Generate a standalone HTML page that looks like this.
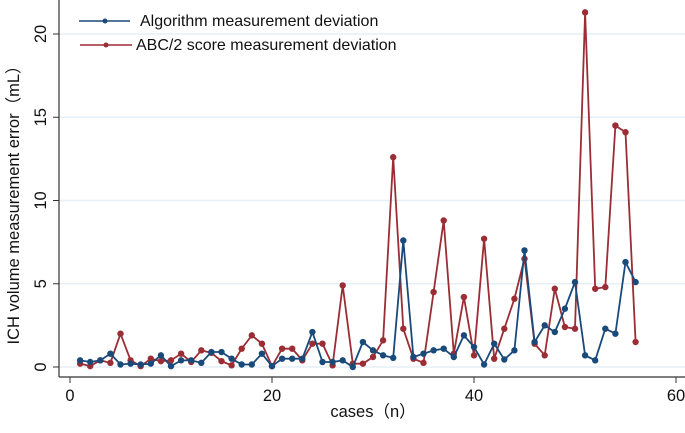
<!DOCTYPE html>
<html><head><meta charset="utf-8"><style>
body{margin:0;background:#fff;}
svg text{font-family:"Liberation Sans","Noto Sans CJK SC",sans-serif;fill:#111;}
</style></head><body>
<svg id="chart" width="685" height="428" xmlns="http://www.w3.org/2000/svg">
<g id="grid"></g>
<g id="axes"></g>
<g id="series"></g>
<text x="373" y="417" font-size="16.5" text-anchor="middle">cases（n）</text>
<text transform="translate(19,201) rotate(-90)" font-size="16.5" text-anchor="middle">ICH volume measurement error（mL）</text>
<g>
<g>
<line x1="79" y1="21" x2="130" y2="21" stroke="#1a4a7a" stroke-width="1.5"/><circle cx="105" cy="21" r="2.5" fill="#1a4a7a"/>
<text x="140" y="26" font-size="16">Algorithm measurement deviation</text></g>
<g>
<line x1="80" y1="45" x2="132" y2="45" stroke="#9b2d35" stroke-width="1.5"/><circle cx="106" cy="45" r="2.5" fill="#9b2d35"/>
<text x="136" y="50" font-size="16">ABC/2 score measurement deviation</text></g>
</g>
</svg>
<script>
const cases = Array.from({length:56},(_,i)=>i+1);
const algorithm = [0.4,0.3,0.4,0.8,0.15,0.2,0.15,0.2,0.7,0.05,0.4,0.4,0.25,0.9,0.9,0.5,0.15,0.15,0.8,0.05,0.5,0.5,0.5,2.1,0.3,0.3,0.4,0.0,1.5,1.0,0.7,0.55,7.6,0.6,0.8,1.0,1.1,0.6,1.9,1.2,0.15,1.4,0.45,1.0,7.0,1.5,2.5,2.1,3.5,5.1,0.7,0.4,2.3,2.0,6.3,5.1];
const abc2 = [0.2,0.05,0.4,0.25,2.0,0.4,0.05,0.5,0.35,0.4,0.8,0.3,1.0,0.85,0.35,0.1,1.1,1.9,1.4,0.05,1.1,1.1,0.4,1.4,1.4,0.1,4.9,0.2,0.2,0.6,1.6,12.6,2.3,0.5,0.25,4.5,8.8,0.8,4.2,0.7,7.7,0.5,2.3,4.1,6.5,1.4,0.7,4.7,2.4,2.3,21.3,4.7,4.8,14.5,14.1,1.5];
const xTicks = [0,20,40,60];
const yTicks = [0,5,10,15,20];
const NS="http://www.w3.org/2000/svg";
const xs = v => 70 + v*(606/60);
const ys = v => 367 - v*(333/20);
function mk(tag, attrs, parent){const e=document.createElementNS(NS,tag);for(const k in attrs)e.setAttribute(k,attrs[k]);parent.appendChild(e);return e;}
const grid=document.getElementById('grid'), axes=document.getElementById('axes'), ser=document.getElementById('series');
yTicks.forEach(t=>{
  const g=mk('line',{x1:59,x2:685,y1:ys(t),y2:ys(t),stroke:'#e6eff5','stroke-width':1.5},grid);
  
  
  mk('line',{x1:53,x2:59,y1:ys(t),y2:ys(t),stroke:'#333'},axes);
  const tx=mk('text',{transform:`translate(46,${ys(t)}) rotate(-90)`,'font-size':16.5,'text-anchor':'middle'},axes);
  tx.textContent=t;
  
  
});
xTicks.forEach(t=>{
  mk('line',{x1:xs(t),x2:xs(t),y1:377,y2:383,stroke:'#333'},axes);
  const tx=mk('text',{x:xs(t),y:401,'font-size':16.5,'text-anchor':'middle'},axes);
  tx.textContent=t;
  
  
});
mk('line',{x1:59,x2:59,y1:0,y2:377,stroke:'#333','stroke-width':1.2},axes);
mk('line',{x1:59,x2:685,y1:377,y2:377,stroke:'#333','stroke-width':1.2},axes);
function draw(vals,color,name){
  const g=mk('g',{},ser);
  
  
  mk('polyline',{points:vals.map((v,i)=>xs(cases[i])+','+ys(v)).join(' '),fill:'none',stroke:color,'stroke-width':1.8},g);
  vals.forEach((v,i)=>{
    const c=mk('circle',{cx:xs(cases[i]),cy:ys(v),r:3.2,fill:color},g);
    
    
  });
}
draw(abc2,'#9b2d35','abc2-series');
draw(algorithm,'#1a4a7a','algorithm-series');
</script>
</body></html>
